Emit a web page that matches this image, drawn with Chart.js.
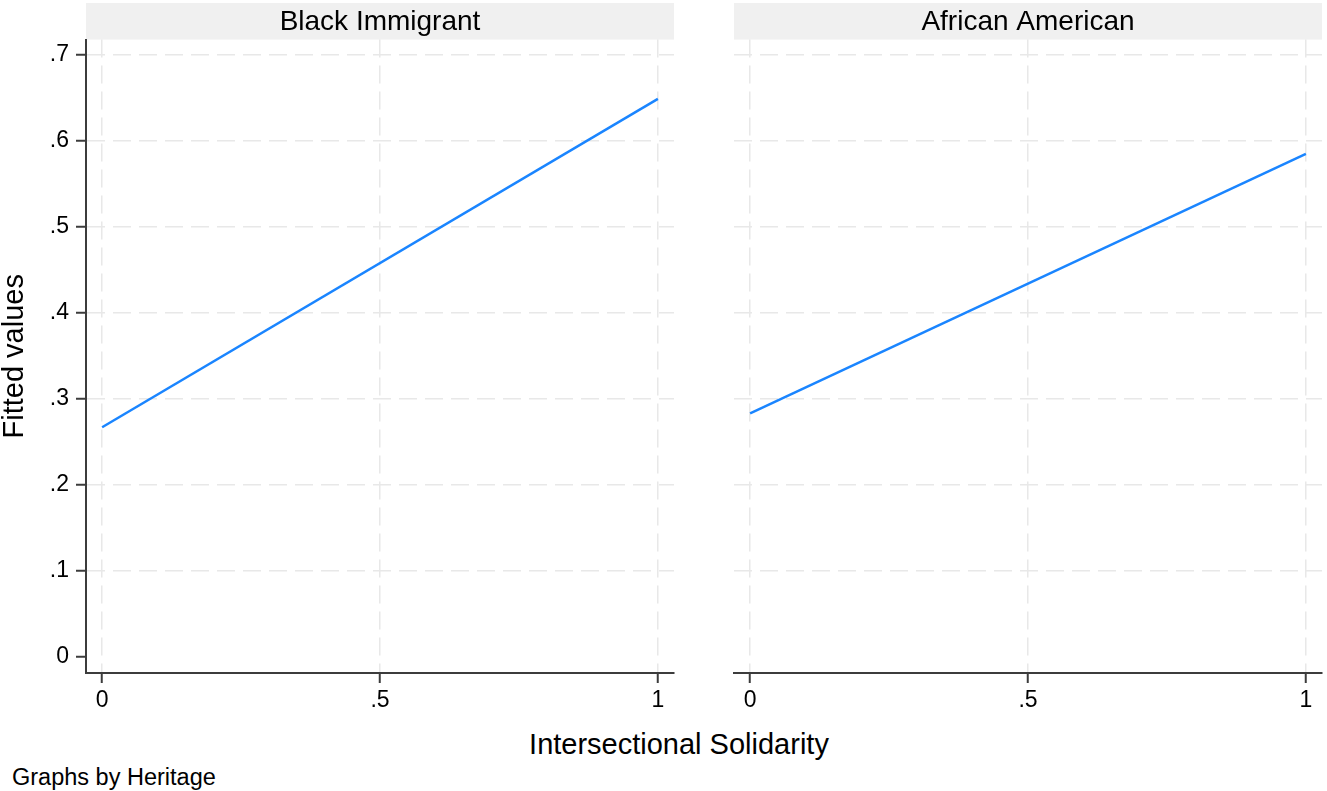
<!DOCTYPE html>
<html>
<head>
<meta charset="utf-8">
<title>Fitted values by Heritage</title>
<script src="https://cdn.jsdelivr.net/npm/chart.js@4/dist/chart.umd.min.js"></script>
<style>
  body {
    margin: 0;
    background: #fff;
    overflow: hidden;
    font-family: 'Liberation Sans', Arial, Helvetica, sans-serif;
    color: #000;
  }
  canvas { position: absolute; top: 0; }
  #left-panel { left: 0; }
  #right-panel { left: 729px; }
  .x-title {
    position: absolute;
    left: 379px;
    width: 600px;
    top: 727px;
    text-align: center;
    font-size: 29px;
    line-height: 34px;
  }
  .note {
    position: absolute;
    left: 12px;
    top: 763px;
    font-size: 23.5px;
    line-height: 28px;
  }
</style>
</head>
<body>
<canvas id="left-panel" width="686" height="723"></canvas>
<canvas id="right-panel" width="598" height="723"></canvas>
<div class="x-title">Intersectional Solidarity</div>
<div class="note">Graphs by Heritage</div>

<script>
// values
const panelTitles = ['Black Immigrant', 'African American'];
const solidarity = [0, 1];
const blackImmigrantFit = [0.267, 0.649];
const africanAmericanFit = [0.283, 0.585];

const xTicks = [0, 0.5, 1];
const xTickLabels = ['0', '.5', '1'];
const yTicks = [0, 0.1, 0.2, 0.3, 0.4, 0.5, 0.6, 0.7];
const yTickLabels = ['0', '.1', '.2', '.3', '.4', '.5', '.6', '.7'];

const LINE_BLUE = '#1a85ff';
const GRID_GREY = '#e8e8e8';
const AXIS_GREY = '#3c3c3c';

Chart.defaults.font.family = "'Liberation Sans', Arial, Helvetica, sans-serif";
Chart.defaults.color = '#000';

// grey header strip behind each panel title
const stripPlugin = {
  id: 'strip',
  beforeDraw(chart) {
    const { ctx, chartArea, titleBlock } = chart;
    ctx.save();
    ctx.fillStyle = '#f0f0f0';
    ctx.fillRect(chartArea.left, titleBlock.top, chartArea.right - chartArea.left, chartArea.top - titleBlock.top);
    ctx.restore();
  },
};

function toPoints(xs, ys) {
  return xs.map((x, i) => ({ x, y: ys[i] }));
}

function fittedPanel(canvasId, { title, fitted, showYAxis, padding }) {
  const ctx = document.getElementById(canvasId);

  const data = {
    datasets: [
      {
        label: 'Fitted values',
        data: toPoints(solidarity, fitted),
        borderColor: LINE_BLUE,
        borderWidth: 2.5,
        pointRadius: 0,
        fill: false,
      },
    ],
  };

  new Chart(ctx, {
    type: 'line',
    data,
    plugins: [stripPlugin],
    options: {
      responsive: false,
      animation: false,
      layout: { padding },
      plugins: {
        legend: { display: false },
        tooltip: { enabled: false },
        title: {
          display: true,
          text: title,
          fullSize: false,
          color: '#000',
          font: { size: 28, weight: 'normal', lineHeight: 1.2 },
          padding: { top: 2, bottom: 1 },
        },
      },
      scales: {
        x: {
          type: 'linear',
          min: -0.029,
          max: 1.029,
          afterBuildTicks: (scale) => {
            scale.ticks = xTicks.map((value) => ({ value }));
          },
          afterFit: (scale) => {
            scale.height = 50;
          },
          ticks: {
            font: { size: 23 },
            color: '#000',
            padding: 4,
            maxRotation: 0,
            callback: (value, index) => xTickLabels[index],
          },
          grid: {
            color: GRID_GREY,
            lineWidth: 1.5,
            tickColor: AXIS_GREY,
            tickWidth: 2,
            tickLength: 10,
            tickBorderDash: [],
          },
          border: { display: true, color: AXIS_GREY, width: 2, dash: [18, 8] },
        },
        y: {
          type: 'linear',
          min: -0.019,
          max: 0.718,
          afterBuildTicks: (scale) => {
            scale.ticks = yTicks.map((value) => ({ value }));
          },
          afterFit: (scale) => {
            scale.width = showYAxis ? 86 : 0;
          },
          title: {
            display: showYAxis,
            text: 'Fitted values',
            color: '#000',
            font: { size: 29, lineHeight: 1.0 },
            padding: { top: 0, bottom: 0 },
          },
          ticks: {
            display: showYAxis,
            font: { size: 23 },
            color: '#000',
            padding: 7,
            callback: (value, index) => yTickLabels[index],
          },
          grid: {
            color: (c) => (c.tick && c.tick.value === 0 ? 'rgba(0,0,0,0)' : GRID_GREY),
            lineWidth: 1.5,
            drawTicks: showYAxis,
            tickColor: AXIS_GREY,
            tickWidth: 2,
            tickLength: 10,
            tickBorderDash: [],
          },
          border: { display: showYAxis, color: AXIS_GREY, width: 2, dash: [18, 8] },
        },
      },
    },
  });
}

fittedPanel('left-panel', {
  title: panelTitles[0],
  fitted: blackImmigrantFit,
  showYAxis: true,
  padding: { top: 3, right: 12, left: 0, bottom: 0 },
});

fittedPanel('right-panel', {
  title: panelTitles[1],
  fitted: africanAmericanFit,
  showYAxis: false,
  padding: { top: 3, right: 5, left: 5, bottom: 0 },
});
</script>
</body>
</html>
